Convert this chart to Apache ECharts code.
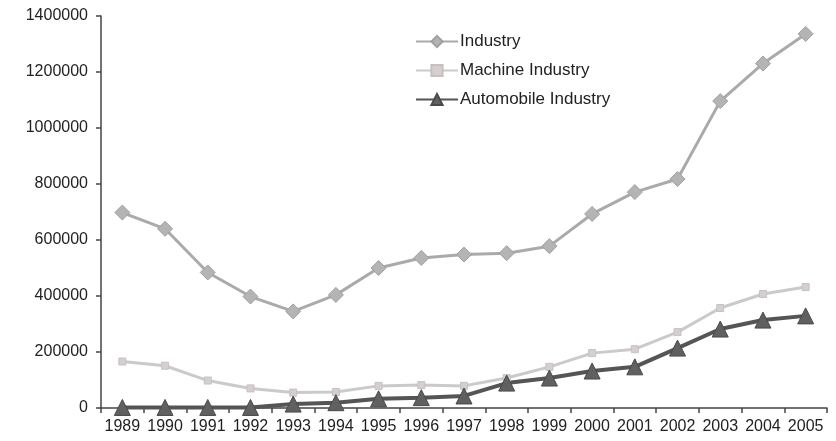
<!DOCTYPE html>
<html>
<head>
<meta charset="utf-8">
<script src="https://cdn.jsdelivr.net/npm/echarts@6/dist/echarts.min.js"></script>
<style>html,body{margin:0;padding:0;background:#fff;}#c{width:836px;height:441px;}</style>
</head>
<body>
<div id="c"></div>
<script>
const years = ['1989','1990','1991','1992','1993','1994','1995','1996','1997','1998','1999','2000','2001','2002','2003','2004','2005'];
const industry = [698000, 640000, 484000, 398000, 345000, 404000, 500000, 536000, 548000, 553000, 578000, 693000, 771000, 818000, 1096000, 1230000, 1336000];
const machineIndustry = [166000, 151000, 98000, 70000, 55000, 57000, 79000, 82000, 79000, 107000, 147000, 196000, 210000, 271000, 357000, 407000, 432000];
const automobileIndustry = [2000, 2000, 2000, 2000, 14000, 19000, 33000, 37000, 43000, 89000, 107000, 132000, 147000, 214000, 282000, 314000, 329000];
const yTicks = [0, 200000, 400000, 600000, 800000, 1000000, 1200000, 1400000];

const chart = echarts.init(document.getElementById('c'), null, {renderer: 'canvas'});
chart.setOption({
  backgroundColor: '#ffffff',
  animation: false,
  textStyle: {fontFamily: 'Liberation Sans, Arial, sans-serif'},
  grid: {left: 101, right: 9, top: 16, bottom: 33, containLabel: false},
  legend: {
    orient: 'vertical',
    left: 410,
    top: 28,
    itemWidth: 42,
    itemHeight: 14,
    itemGap: 12,
    textStyle: {fontSize: 17, color: '#222', padding: [0, 0, 0, -3]},
    data: ['Industry', 'Machine Industry', 'Automobile Industry']
  },
  xAxis: {
    type: 'category',
    data: years,
    boundaryGap: true,
    axisLine: {lineStyle: {color: '#444', width: 1.5}},
    axisTick: {show: true, length: 5, lineStyle: {color: '#444', width: 1.5}},
    axisLabel: {fontSize: 16, color: '#222', margin: 11, interval: 0}
  },
  yAxis: {
    type: 'value',
    min: yTicks[0],
    max: yTicks[yTicks.length - 1],
    interval: 200000,
    axisLine: {show: true, lineStyle: {color: '#444', width: 1.5}},
    axisTick: {show: true, length: 5, lineStyle: {color: '#444', width: 1.5}},
    splitLine: {show: false},
    axisLabel: {fontSize: 16, color: '#222', margin: 13, formatter: function (v) { return String(v); }}
  },
  series: [
    {
      name: 'Industry',
      type: 'line',
      data: industry,
      symbol: 'diamond',
      symbolSize: 15,
      lineStyle: {color: '#aaaaaa', width: 3},
      itemStyle: {color: '#b4b4b4', borderColor: '#a0a0a0', borderWidth: 1}
    },
    {
      name: 'Machine Industry',
      type: 'line',
      data: machineIndustry,
      symbol: 'rect',
      symbolSize: 7,
      lineStyle: {color: '#cacaca', width: 3},
      itemStyle: {color: '#d6cfcf', borderColor: '#c8c0c0', borderWidth: 1}
    },
    {
      name: 'Automobile Industry',
      type: 'line',
      data: automobileIndustry,
      symbol: 'triangle',
      symbolSize: 16,
      lineStyle: {color: '#555555', width: 4},
      itemStyle: {color: '#606060', borderColor: '#4a4a4a', borderWidth: 1}
    }
  ]
});
</script>
</body>
</html>
